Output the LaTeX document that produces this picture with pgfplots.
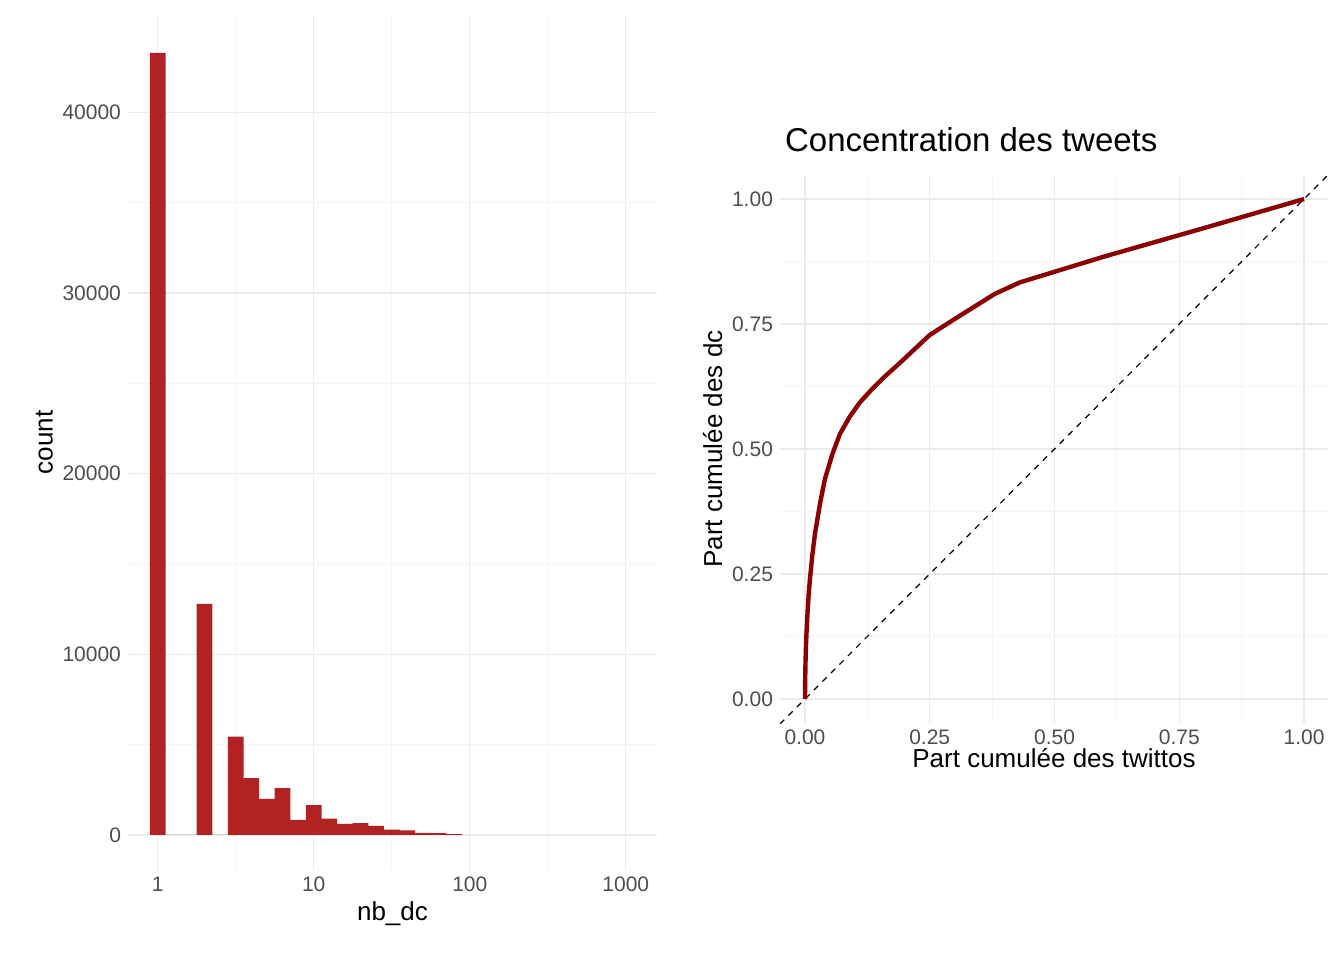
\documentclass[border=0pt]{standalone}
\usepackage{pgfplots}
\pgfplotsset{compat=1.18}
\usepackage{fontspec}
\setmainfont{Liberation Sans}
\definecolor{bar}{RGB}{178,34,34}
\definecolor{curve}{RGB}{139,0,0}
\definecolor{gmaj}{RGB}{235,235,235}
\definecolor{gmin}{RGB}{244,244,244}
\definecolor{tick}{RGB}{77,77,77}
\begin{document}
\begin{tikzpicture}[x=1pt,y=1pt]
\useasboundingbox (0,0) rectangle (672,480);
\pgfplotsset{every axis/.style={scale only axis, axis line style={draw=none}, grid=both,
  major grid style={gmaj, line width=0.7pt}, minor grid style={gmin, line width=0.5pt},
  major tick length=0pt, minor tick length=0pt,
  ticklabel style={font=\fontsize{10.5}{12}\selectfont, text=tick},
  label style={font=\fontsize{13}{15}\selectfont},
  /pgf/number format/assume math mode=true}}
\begin{axis}[at={(64pt,45pt)}, anchor=south west, width=264.5pt, height=427.5pt,
  xmode=log, xmin=0.645, xmax=1585, ymin=-1940, ymax=45400,
  xtick={1,10,100,1000}, xticklabels={1,10,100,1000},
  minor xtick={3.162,31.62,316.2},
  ytick={0,10000,20000,30000,40000}, minor ytick={5000,15000,25000,35000},
  yticklabel style={/pgf/number format/1000 sep={}},
  yticklabels={0,10000,20000,30000,40000},
  xlabel={nb\_dc}, ylabel={count},
  xlabel style={yshift=2pt}, ylabel style={yshift=-2pt}]
\addplot[ybar interval, fill=bar, draw=none] coordinates {
(0.891,43300)(1.122,0)(1.778,12800)(2.239,0)(2.818,5450)(3.548,3150)(4.467,2000)
(5.623,2600)(7.079,830)(8.913,1650)(11.22,900)(14.13,620)(17.78,650)(22.39,500)
(28.18,300)(35.48,250)(44.67,120)(56.23,100)(70.79,50)(89.13,0)};
\end{axis}
\begin{axis}[at={(390pt,118.5pt)}, anchor=south west, width=274pt, height=274pt,
  xmin=-0.05, xmax=1.048, ymin=-0.048, ymax=1.048,
  xtick={0,0.25,0.5,0.75,1}, xticklabels={0.00,0.25,0.50,0.75,1.00},
  ytick={0,0.25,0.5,0.75,1}, yticklabels={0.00,0.25,0.50,0.75,1.00},
  minor xtick={0.125,0.375,0.625,0.875}, minor ytick={0.125,0.375,0.625,0.875},
  xlabel={Part cumulée des twittos}, ylabel={Part cumulée des dc},
  xlabel style={yshift=5pt}, ylabel style={yshift=-2pt},
  title={Concentration des tweets}, title style={font=\fontsize{16.5}{18}\selectfont, anchor=south west, at={(0,1)}, xshift=-1pt, yshift=2pt}]
\addplot[dashed, black, line width=0.6pt] coordinates {(-0.05,-0.05)(1.048,1.048)};
\addplot[curve, line width=2.2pt, line join=round] coordinates {
(0,0)(0.0005,0.04)(0.001,0.07)(0.002,0.105)(0.003,0.13)(0.005,0.17)(0.0075,0.21)(0.01,0.24)
(0.015,0.29)(0.02,0.33)(0.03,0.39)(0.04,0.44)(0.055,0.49)(0.07,0.53)(0.09,0.565)(0.11,0.593)
(0.13,0.615)(0.16,0.645)(0.19,0.672)(0.22,0.70)(0.25,0.728)(0.3,0.76)(0.34,0.785)(0.38,0.81)
(0.43,0.833)(0.6,0.885)(0.8,0.942)(1,1)};
\end{axis}
\end{tikzpicture}
\end{document}
